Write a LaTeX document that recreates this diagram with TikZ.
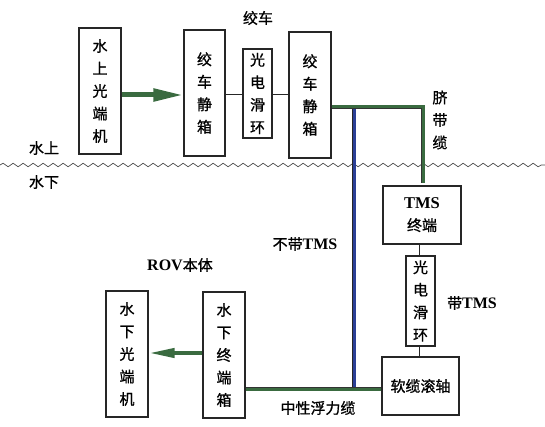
\documentclass[tikz,border=0pt]{standalone}
\usepackage{fontspec}
\setmainfont{Liberation Serif}
\newfontfamily\cjk[FakeBold=1]{Noto Sans CJK SC}
\usetikzlibrary{arrows.meta,decorations.pathmorphing}
\definecolor{cablegreen}{HTML}{3A6B40}
\definecolor{cableblue}{HTML}{2B3F96}
\begin{document}
\begin{tikzpicture}[x=1pt,y=-1pt,
  box/.style={draw=black!85,line width=1.1pt,inner sep=0pt,align=center,
    font=\cjk\fontsize{15}{22.5}\selectfont},
  lbl/.style={font=\cjk\fontsize{15}{18}\selectfont,inner sep=0pt},
  tline/.style={draw=black!85,line width=0.9pt},
  gcable/.style={draw=black!80,line width=0.6pt,double=cablegreen,double distance=3pt,line join=miter},
  bcable/.style={draw=black!85,line width=0.6pt,double=cableblue,double distance=3pt},
  garrow/.style={draw=cablegreen,line width=5pt,-{Triangle[length=30pt,width=12pt]}},
  garrow2/.style={draw=cablegreen,line width=4pt,-{Triangle[length=26pt,width=9pt]}}]
\useasboundingbox (0,0) rectangle (545,427);
% water line
\draw[black!70,line width=0.7pt,decorate,
  decoration={snake,segment length=10pt,amplitude=1.8pt}] (0,165) -- (545,165);
\node[lbl] (up) at (44,148) {水上};
\node[lbl] (down) at (44,182) {水下};
% boxes
\node[box,minimum width=42pt,minimum height=126pt] (A) at (100,91) {水\\上\\光\\端\\机};
\node[box,minimum width=41pt,minimum height=126pt] (B) at (204.5,93) {绞\\车\\静\\箱};
\node[box,minimum width=29pt,minimum height=89pt] (C) at (257.5,93.5) {光\\电\\滑\\环};
\node[box,minimum width=42pt,minimum height=126pt] (D) at (310,95) {绞\\车\\静\\箱};
\node[box,minimum width=78pt,minimum height=58pt,font=\fontsize{16.5}{22}\selectfont] (E) at (422,215)
  {\textbf{TMS}\\{\cjk\fontsize{15}{22}\selectfont 终端}};
\node[box,minimum width=29pt,minimum height=90pt] (F) at (420.5,301) {光\\电\\滑\\环};
\node[box,minimum width=77pt,minimum height=58pt] (G) at (420.5,386) {软缆滚轴};
\node[box,minimum width=42pt,minimum height=126pt] (H) at (127,354) {水\\下\\光\\端\\机};
\node[box,minimum width=42pt,minimum height=126pt] (I) at (224,355) {水\\下\\终\\端\\箱};
% labels
\node[lbl] (winch) at (258,18) {绞车};
\node[lbl,align=center,font=\cjk\fontsize{15}{22.5}\selectfont] (umb) at (440,120) {脐\\带\\缆};
\node[lbl,font=\fontsize{16}{18}\selectfont] (notms) at (305,244) {{\cjk\fontsize{15}{18}\selectfont 不带}\textbf{TMS}};
\node[lbl,font=\fontsize{16}{18}\selectfont] (rov) at (180,265) {\textbf{ROV}{\cjk\fontsize{15}{18}\selectfont 本体}};
\node[lbl,font=\fontsize{16}{18}\selectfont] (withtms) at (472,303) {{\cjk\fontsize{15}{18}\selectfont 带}\textbf{TMS}};
\node[lbl] (neutral) at (318,408) {中性浮力缆};
% connectors
\coordinate (corner) at (423,107);
\coordinate (umbend) at (423,183);
\coordinate (btop) at (354,107);
\coordinate (bbot) at (354,389);
\draw[tline] (B.east |- 0,94) -- (C.west |- 0,94);
\draw[tline] (C.east |- 0,94) -- (D.west |- 0,94);
\draw[tline] (E.south -| 419,0) -- (F.north -| 419,0);
\draw[tline] (F.south -| 419,0) -- (G.north -| 419,0);
\draw[bcable] (btop) -- (bbot);
\draw[gcable] (D.east |- corner) -- (corner) -- (umbend);
\draw[gcable] (I.east |- bbot) -- (G.west |- bbot);
\draw[garrow] (A.east |- 0,95) -- (B.west |- 0,95);
\draw[garrow2] (I.west |- 0,353) -- (H.east |- 0,353);
\end{tikzpicture}
\end{document}
